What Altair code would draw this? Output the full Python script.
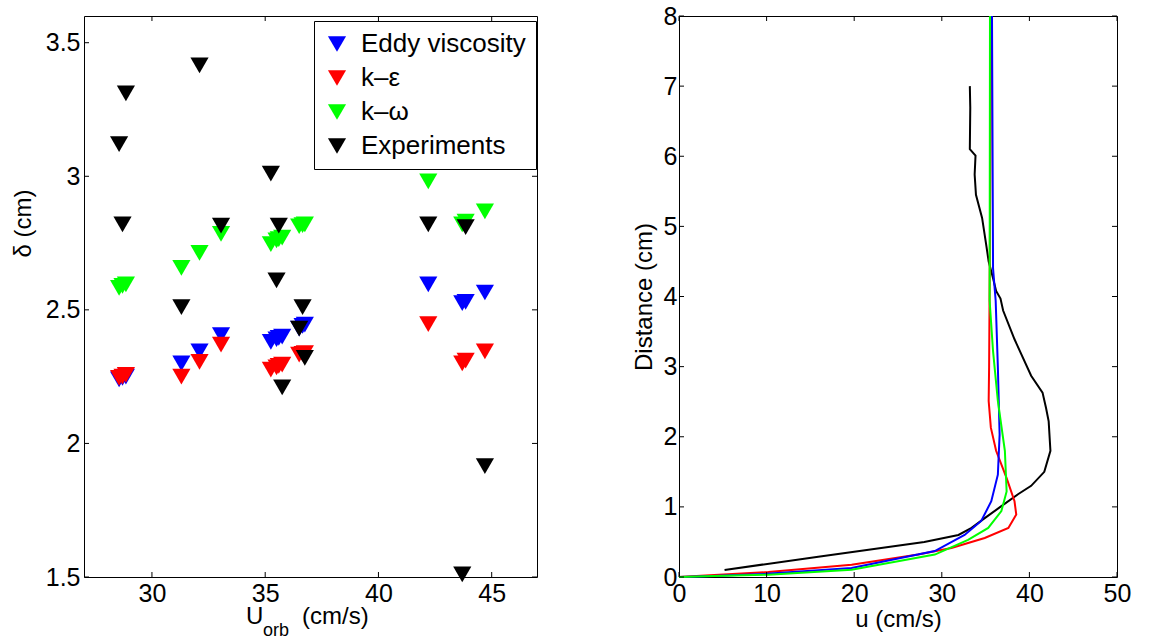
import altair as alt
import pandas as pd

FONT = "Liberation Sans"

# ---------------- left panel data ----------------
series = ["Eddy viscosity", "k–ε", "k–ω", "Experiments"]
series_colors = ["#0000ff", "#ff0000", "#00ff00", "#000000"]

u_orb = [28.55, 28.7, 28.85, 31.3, 32.1, 33.05, 35.25, 35.5, 35.6, 35.75,
         36.5, 36.65, 36.75, 42.2, 43.7, 43.85, 44.7]
delta_eddy = [2.24, 2.245, 2.25, 2.30, 2.345, 2.405, 2.38, 2.39, 2.395, 2.40,
              2.43, 2.44, 2.445, 2.595, 2.525, 2.53, 2.565]
delta_keps = [2.245, 2.25, 2.257, 2.25, 2.305, 2.37, 2.276, 2.285, 2.29, 2.295,
              2.332, 2.335, 2.338, 2.447, 2.30, 2.31, 2.345]
delta_komega = [2.582, 2.59, 2.595, 2.657, 2.713, 2.784, 2.746, 2.76, 2.765, 2.77,
                2.813, 2.817, 2.82, 2.981, 2.82, 2.83, 2.869]
delta_exp = [3.12, 2.82, 3.31, 2.51, 3.415, 2.815, 3.01, 2.61, 2.815, 2.21,
             2.43, 2.51, 2.32, 2.82, 1.51, 2.81, 1.915]

left_xticks = [30, 35, 40, 45]
left_yticks = [1.5, 2, 2.5, 3, 3.5]

# ---------------- right panel data ----------------
line_series = ["Experiments", "k–ε", "Eddy viscosity", "k–ω"]
line_colors = ["#000000", "#ff0000", "#0000ff", "#00ff00"]

exp_u = [5.2, 15.9, 28.0, 31.9, 33.4, 34.9, 36.8, 38.7, 40.2, 41.7, 42.4, 42.2,
         41.9, 41.5, 40.2, 38.3, 37.0, 36.7, 36.2, 35.85, 35.35, 35.1, 34.6,
         33.9, 33.75, 33.85, 33.2, 33.25, 33.2]
exp_d = [0.10, 0.29, 0.50, 0.60, 0.70, 0.84, 1.01, 1.18, 1.30, 1.50, 1.80, 2.22,
         2.41, 2.63, 2.87, 3.39, 3.80, 3.97, 4.08, 4.26, 4.50, 4.71, 5.12,
         5.45, 5.74, 6.01, 6.10, 6.69, 7.0]

keps_u = [0, 3.0, 10.2, 19.7, 27.3, 31.1, 34.9, 37.6, 38.5, 38.3, 37.4, 36.2,
          35.6, 35.35, 35.4, 35.45, 35.55, 35.65]
keps_d = [0, 0.02, 0.07, 0.176, 0.32, 0.414, 0.557, 0.70, 0.89, 1.08, 1.41,
          1.80, 2.13, 2.51, 2.99, 3.94, 6.0, 8.0]

eddy_u = [0, 3.0, 10.0, 19.7, 29.2, 32.6, 34.5, 35.65, 36.4, 36.6, 36.4, 36.15,
          35.85, 35.73]
eddy_d = [0, 0.012, 0.045, 0.13, 0.37, 0.60, 0.80, 1.08, 1.46, 2.03, 2.99, 3.94,
          4.4, 8.0]

komega_u = [0, 3.0, 10.2, 19.7, 29.2, 33.0, 35.3, 36.8, 37.4, 37.2, 36.4, 35.85,
            35.46, 35.5]
komega_d = [0, 0.01, 0.033, 0.105, 0.32, 0.53, 0.70, 0.94, 1.22, 1.80, 2.51,
            3.22, 3.94, 8.0]

right_xticks = [0, 10, 20, 30, 40, 50]
right_yticks = [0, 1, 2, 3, 4, 5, 6, 7, 8]

# ---------------- tables ----------------
rows = []
for name, vals in zip(series, [delta_eddy, delta_keps, delta_komega, delta_exp]):
    for x, y in zip(u_orb, vals):
        rows.append({"series": name, "U": x, "delta": y})
pts = pd.DataFrame(rows)

lrows = []
for name, uu, dd in zip(line_series, [exp_u, keps_u, eddy_u, komega_u],
                        [exp_d, keps_d, eddy_d, komega_d]):
    for i, (a, b) in enumerate(zip(uu, dd)):
        lrows.append({"model": name, "u": a, "d": b, "idx": i})
lines = pd.DataFrame(lrows)

W1, H1 = 453, 561
W2, H2 = 438, 561
TICK = 5
FS = 25


def tick_layers(xvals, yvals, xs, ys, xax, yax, W, H):
    dx = pd.DataFrame({"v": xvals})
    dy = pd.DataFrame({"w": yvals})
    xb = alt.Chart(dx).mark_rule(color="black", strokeWidth=1).encode(
        x=alt.X("v:Q", scale=xs, axis=xax), y=alt.value(H), y2=alt.value(H - TICK))
    xt = alt.Chart(dx).mark_rule(color="black", strokeWidth=1).encode(
        x=alt.X("v:Q", scale=xs, axis=xax), y=alt.value(0), y2=alt.value(TICK))
    yl = alt.Chart(dy).mark_rule(color="black", strokeWidth=1).encode(
        y=alt.Y("w:Q", scale=ys, axis=yax), x=alt.value(0), x2=alt.value(TICK))
    yr = alt.Chart(dy).mark_rule(color="black", strokeWidth=1).encode(
        y=alt.Y("w:Q", scale=ys, axis=yax), x=alt.value(W - TICK), x2=alt.value(W))
    return [xb, xt, yl, yr]


# ---------------- left chart ----------------
xs1 = alt.Scale(domain=[27, 47], nice=False, zero=False)
ys1 = alt.Scale(domain=[1.5, 3.6], nice=False, zero=False)

xax1 = alt.Axis(values=left_xticks, title=None, ticks=False, domain=False,
                grid=False, labelFontSize=FS, labelPadding=4, labelFlush=False,
                labelOverlap=False, format="d")
yax1 = alt.Axis(values=left_yticks, title="δ (cm)", ticks=False, domain=False,
                grid=False, labelFontSize=FS, labelPadding=4, labelOverlap=False,
                format="~g", titleFontSize=24, titleFontWeight="normal",
                titleAngle=270, titleX=-54, titleY=207, titleAlign="center",
                titleBaseline="alphabetic")

points = alt.Chart(pts).mark_point(
    shape="triangle-down", filled=True, size=330, opacity=1, strokeWidth=0
).encode(
    x=alt.X("U:Q", scale=xs1, axis=xax1, title=None),
    y=alt.Y("delta:Q", scale=ys1, axis=yax1, title="δ (cm)"),
    color=alt.Color("series:N", scale=alt.Scale(domain=series, range=series_colors),
                    legend=alt.Legend(
                        title=None, orient="none", legendX=230, legendY=5,
                        fillColor="white", strokeColor="black", padding=10,
                        rowPadding=8, symbolType="triangle-down", symbolSize=330,
                        symbolStrokeWidth=0, labelFontSize=26, labelOffset=11,
                        labelLimit=400, labelFont=FONT, labelColor="black",
                        cornerRadius=0)),
)

t_U = alt.Chart(pd.DataFrame({"t": ["U"]})).mark_text(
    align="left", baseline="alphabetic", fontSize=24, font=FONT, color="black"
).encode(text="t:N", x=alt.value(162), y=alt.value(H1 + 47))
t_orb = alt.Chart(pd.DataFrame({"t": ["orb"]})).mark_text(
    align="left", baseline="alphabetic", fontSize=18, font=FONT, color="black"
).encode(text="t:N", x=alt.value(179), y=alt.value(H1 + 59))
t_unit = alt.Chart(pd.DataFrame({"t": ["(cm/s)"]})).mark_text(
    align="left", baseline="alphabetic", fontSize=24, font=FONT, color="black"
).encode(text="t:N", x=alt.value(218), y=alt.value(H1 + 47))

left = alt.layer(
    points, *tick_layers(left_xticks, left_yticks, xs1, ys1, xax1, yax1, W1, H1),
    t_U, t_orb, t_unit
).properties(width=W1, height=H1)

# ---------------- right chart ----------------
xs2 = alt.Scale(domain=[0, 50], nice=False)
ys2 = alt.Scale(domain=[0, 8], nice=False)

xax2 = alt.Axis(values=right_xticks, title="u (cm/s)", ticks=False, domain=False,
                grid=False, labelFontSize=FS, labelPadding=4, labelFlush=False,
                labelOverlap=False, format="d", titleFontSize=24,
                titleFontWeight="normal", titleBaseline="alphabetic", titleY=49)
yax2 = alt.Axis(values=right_yticks, title="Distance (cm)", ticks=False,
                domain=False, grid=False, labelFontSize=FS, labelPadding=2,
                labelOverlap=False, format="d", titleFontSize=24,
                titleFontWeight="normal", titleAngle=270, titleX=-28,
                titleY=H2 / 2, titleAlign="center", titleBaseline="alphabetic")

curves = alt.Chart(lines).mark_line(strokeWidth=2).encode(
    x=alt.X("u:Q", scale=xs2, axis=xax2, title="u (cm/s)"),
    y=alt.Y("d:Q", scale=ys2, axis=yax2, title="Distance (cm)"),
    color=alt.Color("model:N", scale=alt.Scale(domain=line_series, range=line_colors),
                    legend=None),
    detail="model:N",
    order="idx:Q",
)

right = alt.layer(
    curves, *tick_layers(right_xticks, right_yticks, xs2, ys2, xax2, yax2, W2, H2)
).properties(width=W2, height=H2)

chart = alt.hconcat(left, right, spacing=142, bounds="flush").resolve_scale(
    color="independent", x="independent", y="independent"
).properties(
    padding={"left": 10, "top": 3, "right": 5, "bottom": 0}
).configure(
    font=FONT
).configure_view(
    stroke="black", strokeWidth=1
).configure_axis(
    labelFont=FONT, titleFont=FONT, labelColor="black", titleColor="black"
)

chart.save("out.html", embed_options={"renderer": "svg", "actions": False})
